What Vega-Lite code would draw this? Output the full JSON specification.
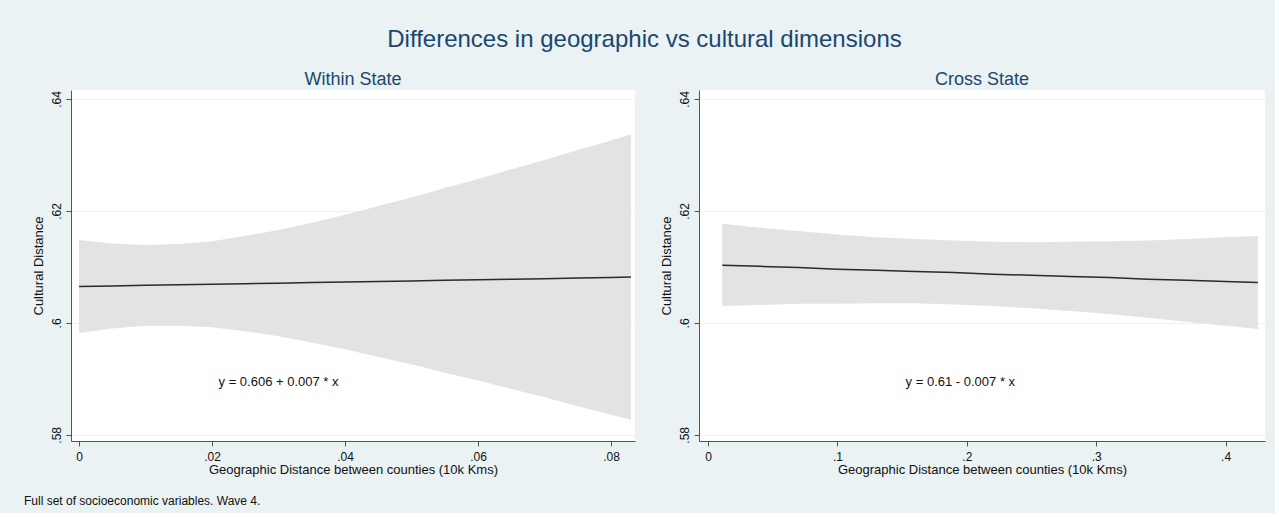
{
  "$schema": "https://vega.github.io/schema/vega-lite/v6.json",
  "background": "#eaf2f3",
  "padding": {"left": 24, "top": 28, "right": 10, "bottom": 6},
  "title": {"text": "Differences in geographic vs cultural dimensions", "fontSize": 24, "font": "Liberation Sans", "fontWeight": "normal", "color": "#1a476f", "offset": 19, "anchor": "middle"},
  "datasets": {
    "within": [
      {"x": 0, "fit": 0.6065, "lo": 0.5982, "hi": 0.6148},
      {"x": 0.005, "fit": 0.6066, "lo": 0.5990, "hi": 0.6142},
      {"x": 0.01, "fit": 0.6067, "lo": 0.5995, "hi": 0.6139},
      {"x": 0.015, "fit": 0.6068, "lo": 0.5995, "hi": 0.6141},
      {"x": 0.02, "fit": 0.6069, "lo": 0.5992, "hi": 0.6146},
      {"x": 0.025, "fit": 0.6070, "lo": 0.5985, "hi": 0.6155},
      {"x": 0.03, "fit": 0.6071, "lo": 0.5976, "hi": 0.6166},
      {"x": 0.035, "fit": 0.6072, "lo": 0.5965, "hi": 0.6179},
      {"x": 0.04, "fit": 0.6073, "lo": 0.5953, "hi": 0.6193},
      {"x": 0.045, "fit": 0.6074, "lo": 0.5939, "hi": 0.6209},
      {"x": 0.05, "fit": 0.6075, "lo": 0.5926, "hi": 0.6224},
      {"x": 0.055, "fit": 0.6076, "lo": 0.5911, "hi": 0.6241},
      {"x": 0.06, "fit": 0.6077, "lo": 0.5897, "hi": 0.6257},
      {"x": 0.065, "fit": 0.6078, "lo": 0.5882, "hi": 0.6274},
      {"x": 0.07, "fit": 0.6079, "lo": 0.5867, "hi": 0.6291},
      {"x": 0.075, "fit": 0.6080, "lo": 0.5851, "hi": 0.6309},
      {"x": 0.08, "fit": 0.6081, "lo": 0.5836, "hi": 0.6326},
      {"x": 0.083, "fit": 0.6082, "lo": 0.5827, "hi": 0.6337}
    ],
    "cross": [
      {"x": 0.011, "fit": 0.6103, "lo": 0.6030, "hi": 0.6177},
      {"x": 0.04, "fit": 0.6101, "lo": 0.6032, "hi": 0.6170},
      {"x": 0.07, "fit": 0.6099, "lo": 0.6034, "hi": 0.6164},
      {"x": 0.10, "fit": 0.6096, "lo": 0.6034, "hi": 0.6158},
      {"x": 0.13, "fit": 0.6094, "lo": 0.6035, "hi": 0.6153},
      {"x": 0.16, "fit": 0.6092, "lo": 0.6035, "hi": 0.6150},
      {"x": 0.19, "fit": 0.6090, "lo": 0.6033, "hi": 0.6147},
      {"x": 0.22, "fit": 0.6087, "lo": 0.6030, "hi": 0.6145},
      {"x": 0.25, "fit": 0.6085, "lo": 0.6026, "hi": 0.6144},
      {"x": 0.28, "fit": 0.6083, "lo": 0.6021, "hi": 0.6145},
      {"x": 0.31, "fit": 0.6081, "lo": 0.6016, "hi": 0.6146},
      {"x": 0.34, "fit": 0.6078, "lo": 0.6009, "hi": 0.6147},
      {"x": 0.37, "fit": 0.6076, "lo": 0.6002, "hi": 0.6150},
      {"x": 0.40, "fit": 0.6074, "lo": 0.5995, "hi": 0.6153},
      {"x": 0.425, "fit": 0.6072, "lo": 0.5989, "hi": 0.6155}
    ]
  },
  "vconcat": [
    {
      "title": {"text": "Full set of socioeconomic variables. Wave 4.", "orient": "bottom", "anchor": "start", "fontSize": 12, "fontWeight": "normal", "color": "#111111", "offset": 20, "dx": -8, "font": "Liberation Sans"},
      "spacing": 25,
      "hconcat": [
        {
          "width": 564,
          "height": 351,
          "title": {"text": "Within State", "fontSize": 18, "fontWeight": "normal", "color": "#1a476f", "offset": 1, "font": "Liberation Sans"},
          "layer": [
            {
              "data": {"name": "within"},
              "mark": {"type": "area", "color": "#e3e3e3", "opacity": 1},
              "encoding": {
                "x": {"field": "x", "type": "quantitative", "scale": {"domain": [-0.0012, 0.0836], "nice": false, "zero": false},
                      "axis": {"values": [0, 0.02, 0.04, 0.06, 0.08], "title": "Geographic Distance between counties (10k Kms)", "labelExpr": "datum.value == 0 ? '0' : substring(format(datum.value, '~g'), 1)"}},
                "y": {"field": "lo", "type": "quantitative", "scale": {"domain": [0.5789, 0.6416], "nice": false, "zero": false},
                      "axis": {"values": [0.58, 0.6, 0.62, 0.64], "title": "Cultural Distance", "labelExpr": "substring(format(datum.value, '~g'), 1)"}},
                "y2": {"field": "hi"}
              }
            },
            {
              "data": {"name": "within"},
              "mark": {"type": "line", "color": "#2a2a2a", "strokeWidth": 1.5},
              "encoding": {
                "x": {"field": "x", "type": "quantitative"},
                "y": {"field": "fit", "type": "quantitative"}
              }
            },
            {
              "data": {"values": [{}]},
              "mark": {"type": "text", "fontSize": 13, "color": "#111111", "font": "Liberation Sans"},
              "encoding": {
                "x": {"datum": 0.03, "type": "quantitative"},
                "y": {"datum": 0.5895, "type": "quantitative"},
                "text": {"value": "y = 0.606 + 0.007 * x"}
              }
            }
          ]
        },
        {
          "width": 566,
          "height": 351,
          "title": {"text": "Cross State", "fontSize": 18, "fontWeight": "normal", "color": "#1a476f", "offset": 1, "font": "Liberation Sans"},
          "layer": [
            {
              "data": {"name": "cross"},
              "mark": {"type": "area", "color": "#e3e3e3", "opacity": 1},
              "encoding": {
                "x": {"field": "x", "type": "quantitative", "scale": {"domain": [-0.007, 0.4305], "nice": false, "zero": false},
                      "axis": {"values": [0, 0.1, 0.2, 0.3, 0.4], "title": "Geographic Distance between counties (10k Kms)", "labelExpr": "datum.value == 0 ? '0' : substring(format(datum.value, '~g'), 1)"}},
                "y": {"field": "lo", "type": "quantitative", "scale": {"domain": [0.5789, 0.6416], "nice": false, "zero": false},
                      "axis": {"values": [0.58, 0.6, 0.62, 0.64], "title": "Cultural Distance", "labelExpr": "substring(format(datum.value, '~g'), 1)"}},
                "y2": {"field": "hi"}
              }
            },
            {
              "data": {"name": "cross"},
              "mark": {"type": "line", "color": "#2a2a2a", "strokeWidth": 1.5},
              "encoding": {
                "x": {"field": "x", "type": "quantitative"},
                "y": {"field": "fit", "type": "quantitative"}
              }
            },
            {
              "data": {"values": [{}]},
              "mark": {"type": "text", "fontSize": 13, "color": "#111111", "font": "Liberation Sans"},
              "encoding": {
                "x": {"datum": 0.195, "type": "quantitative"},
                "y": {"datum": 0.5895, "type": "quantitative"},
                "text": {"value": "y = 0.61 - 0.007 * x"}
              }
            }
          ]
        }
      ]
    }
  ],
  "config": {
    "font": "Liberation Sans",
    "view": {"stroke": null, "fill": "white"},
    "axis": {"labelFont": "Liberation Sans", "labelFontSize": 12, "labelColor": "#111111", "titleFont": "Liberation Sans", "titleFontSize": 13, "titleFontWeight": "normal", "titleColor": "#111111", "domainColor": "#555555", "tickColor": "#555555", "tickSize": 5, "gridColor": "#eaf2f3"},
    "axisX": {"grid": false, "labelPadding": 5, "titlePadding": 1, "labelFlush": false},
    "axisY": {"grid": true, "labelAngle": -90, "labelPadding": 3, "titlePadding": 5}
  }
}
